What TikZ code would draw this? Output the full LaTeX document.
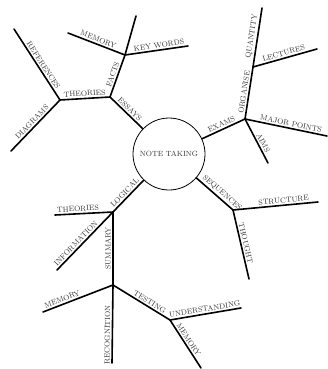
\documentclass[tikz,border=0pt]{standalone}
\begin{document}
\begin{tikzpicture}[x=1pt,y=-1pt,
  branch/.style={line width=1.6pt, line cap=round},
  lbl/.style={font=\fontsize{7.5}{8}\selectfont, text=black!80, inner sep=1.5pt, sloped, above}]
\useasboundingbox (0,0) rectangle (328,369);
\node[draw, circle, line width=0.8pt, minimum size=72pt, inner sep=0pt,
  font=\fontsize{7.5}{8}\selectfont, text=black!80] (nt) at (169,154) {NOTE TAKING};
\coordinate (t1) at (110,97);
\coordinate (t2) at (60,100);
\coordinate (ref) at (14,29);
\coordinate (dia) at (11,151);
\coordinate (f) at (125,55);
\coordinate (mem1) at (68,33);
\coordinate (up) at (136,16);
\coordinate (kw) at (188,46);
\coordinate (e) at (245,119);
\coordinate (o) at (253,67);
\coordinate (q) at (262,8);
\coordinate (lec) at (317,49);
\coordinate (mp) at (327,136);
\coordinate (aims) at (268,163);
\coordinate (s) at (233,210);
\coordinate (str) at (318,202);
\coordinate (th) at (249,279);
\coordinate (l) at (113,212);
\coordinate (th2) at (55,215);
\coordinate (inf) at (57,270);
\coordinate (m) at (113,285);
\coordinate (mem2) at (43,312);
\coordinate (rec) at (112,363);
\coordinate (u) at (170,320);
\coordinate (und) at (241,308);
\coordinate (mem3) at (201,368);
% top-left
\draw[branch] (t1) -- node[lbl]{ESSAYS} (nt);
\draw[branch] (t2) -- node[lbl]{THEORIES} (t1);
\draw[branch] (ref) -- node[lbl,pos=0.55]{REFERENCES} (t2);
\draw[branch] (dia) -- node[lbl]{DIAGRAMS} (t2);
\draw[branch] (t1) -- node[lbl]{FACTS} (f);
\draw[branch] (mem1) -- node[lbl]{MEMORY} (f);
\draw[branch] (f) -- (up);
\draw[branch] (f) -- node[lbl,pos=0.55]{KEY WORDS} (kw);
% top-right
\draw[branch] (nt) -- node[lbl]{EXAMS} (e);
\draw[branch] (e) -- node[lbl]{ORGANISE} (o);
\draw[branch] (o) -- node[lbl]{QUANTITY} (q);
\draw[branch] (o) -- node[lbl]{LECTURES} (lec);
\draw[branch] (e) -- node[lbl,pos=0.55]{MAJOR POINTS} (mp);
\draw[branch] (e) -- node[lbl,pos=0.6]{AIMS} (aims);
% bottom-right
\draw[branch] (nt) -- node[lbl,pos=0.6]{SEQUENCES} (s);
\draw[branch] (s) -- node[lbl,pos=0.6]{STRUCTURE} (str);
\draw[branch] (s) -- node[lbl]{THOUGHT} (th);
% bottom-left
\draw[branch] (l) -- node[lbl]{LOGICAL} (nt);
\draw[branch] (th2) -- node[lbl,pos=0.4]{THEORIES} (l);
\draw[branch] (inf) -- node[lbl,pos=0.4]{INFORMATION} (l);
\draw[branch] (m) -- node[lbl]{SUMMARY} (l);
\draw[branch] (mem2) -- node[lbl,pos=0.3]{MEMORY} (m);
\draw[branch] (rec) -- node[lbl,pos=0.36]{RECOGNITION} (m);
\draw[branch] (m) -- node[lbl,pos=0.6]{TESTING} (u);
\draw[branch] (u) -- node[lbl]{UNDERSTANDING} (und);
\draw[branch] (u) -- node[lbl,pos=0.47]{MEMORY} (mem3);
\end{tikzpicture}
\end{document}
